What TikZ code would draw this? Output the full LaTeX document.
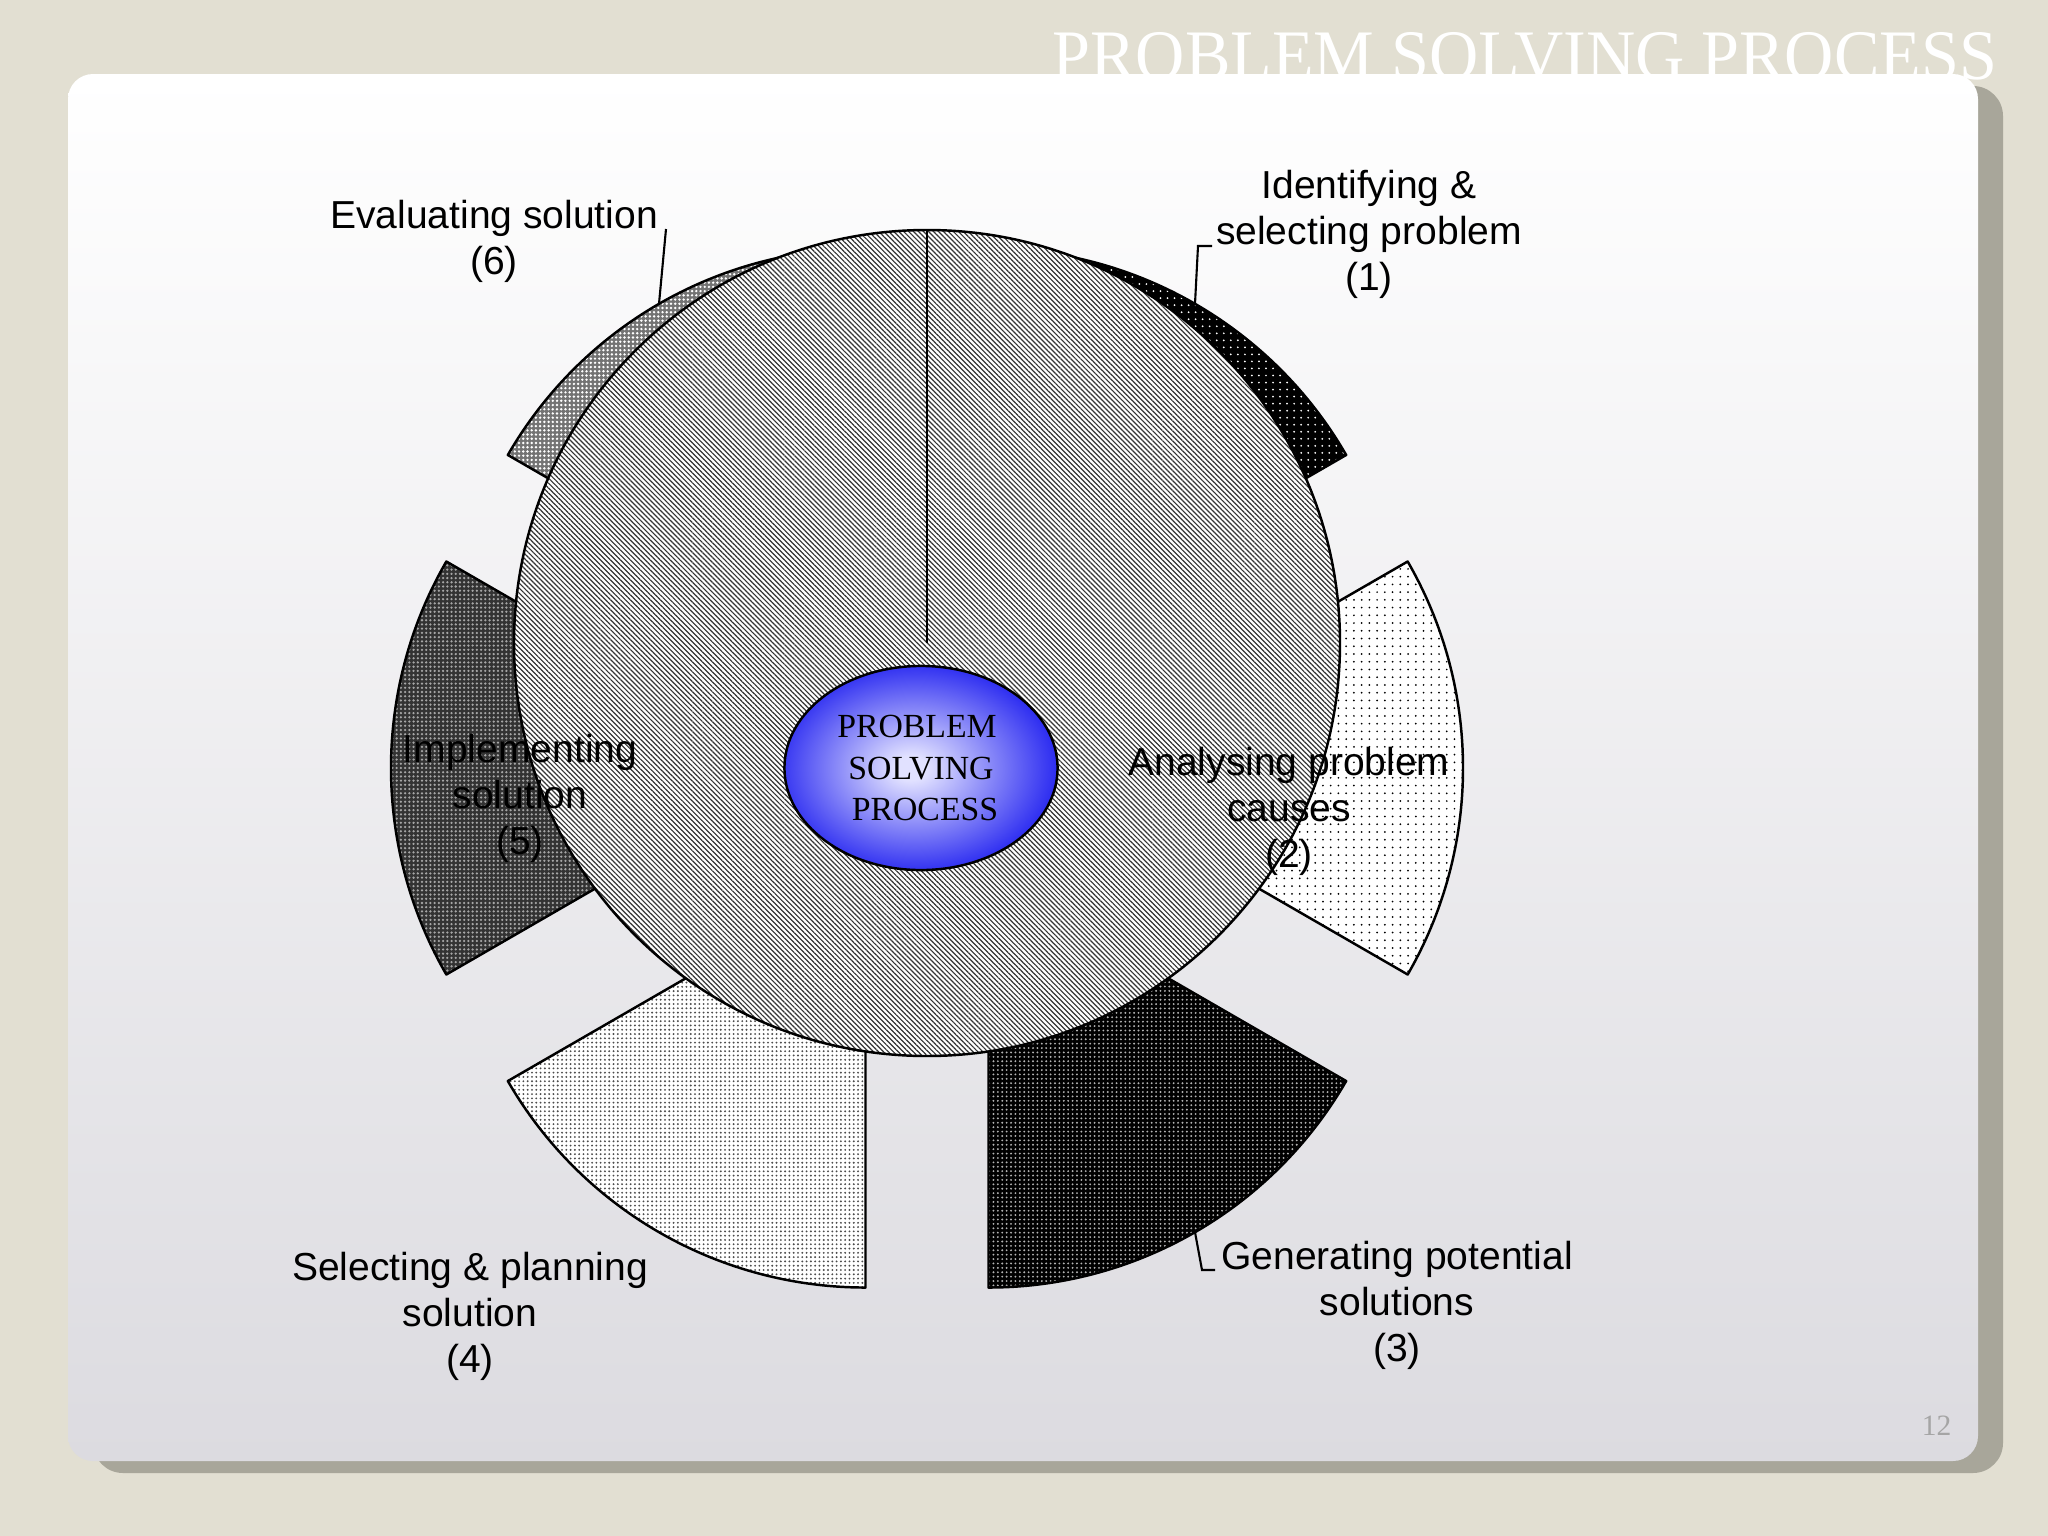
\documentclass[tikz,border=0pt]{standalone}
\usepackage{graphicx}
\usepackage{fontspec}
\setmainfont{Liberation Serif}
\newfontfamily\arialf{Liberation Sans}
\usetikzlibrary{calc,shapes.geometric,patterns.meta}
\definecolor{bgc}{RGB}{226,223,210}
\definecolor{shadowc}{RGB}{168,166,154}
\definecolor{panelbot}{RGB}{220,219,224}
\definecolor{ctrc}{RGB}{225,225,255}
\definecolor{bluc}{RGB}{35,35,240}
\definecolor{pgnum}{RGB}{165,165,165}
\pgfdeclareradialshading{blueglow}{\pgfpoint{-2bp}{0bp}}{color(0bp)=(ctrc); color(3bp)=(ctrc); color(27bp)=(bluc); color(50bp)=(bluc)}
\tikzset{
  lbl/.style={font=\arialf\fontsize{11.1}{13.1}\selectfont, align=center, text=black, inner sep=0pt},
  outl/.style={draw=black, line width=0.7pt, line join=round},
  leader/.style={draw=black, line width=0.6pt},
  s1fill/.style={preaction={fill=black}, pattern={Dots[radius=0.28pt,distance=2pt]}, pattern color=white},
  s2fill/.style={preaction={fill=white}, pattern={Dots[radius=0.28pt,distance=2.2pt]}, pattern color=black},
  s3fill/.style={preaction={fill=black}, pattern={Dots[radius=0.3pt,distance=1.25pt]}, pattern color=white!70!black},
  s4fill/.style={preaction={fill=white}, pattern={Dots[radius=0.3pt,distance=1.22pt]}, pattern color=black!70},
  s5fill/.style={preaction={fill=black!80}, pattern={Dots[radius=0.36pt,distance=1.2pt]}, pattern color=white!65!black},
  s6fill/.style={preaction={fill=black!55}, pattern={Dots[radius=0.38pt,distance=1.2pt]}, pattern color=white},
  circfill/.style={preaction={fill=white}, pattern={Lines[angle=-45,distance=1pt,line width=0.34pt]}, pattern color=black!80},
}
\begin{document}
\begin{tikzpicture}[x=0.01cm, y=-0.01cm]
\useasboundingbox (0,0) rectangle (2048,1536);
\fill[bgc] (0,0) rectangle (2048,1536);
% slide panel
\fill[shadowc, rounded corners=0.3cm] (93,86) rectangle (2003,1473);
\path[rounded corners=0.25cm, top color=white, bottom color=panelbot] (68,74) rectangle (1978,1461);
\node[anchor=base east, text=white, font=\fontsize{20.2}{24}\selectfont, inner sep=0pt] (title) at (1998,79) {\scalebox{0.96}[1]{PROBLEM SOLVING PROCESS}};
% geometry
\coordinate (O) at (927,768);
\coordinate (C) at (927,643);
\foreach \i/\b in {1/-60, 2/0, 3/60, 4/120, 5/180, 6/240}
  \coordinate (A\i) at ($(O)+(\b:123)$);
% outer slices
\path[outl, s1fill] (A1) -- ++(-90:413) arc[start angle=-90, end angle=-30, radius=413] -- cycle;
\path[outl, s2fill] (A2) -- ++(-30:413) arc[start angle=-30, end angle=30, radius=413] -- cycle;
\path[outl, s3fill] (A3) -- ++(30:413) arc[start angle=30, end angle=90, radius=413] -- cycle;
\path[outl, s4fill] (A4) -- ++(90:413) arc[start angle=90, end angle=150, radius=413] -- cycle;
\path[outl, s5fill] (A5) -- ++(150:413) arc[start angle=150, end angle=210, radius=413] -- cycle;
\path[outl, s6fill] (A6) -- ++(210:413) arc[start angle=210, end angle=270, radius=413] -- cycle;
% central disc
\path[outl, circfill] (C) circle[radius=413];
\coordinate (Ctop) at ($(C)+(0,-413)$);
\draw[outl] (C) -- (Ctop);
% core ellipse
\node[ellipse, shade, shading=blueglow, draw=black, line width=0.7pt, minimum width=2.73cm, minimum height=2.04cm, inner sep=0pt, font=\fontsize{9.6}{11.7}\selectfont, align=center] (core) at (921,768) {PROBLEM\rule{0.08cm}{0pt}\\SOLVING\\\rule{0.08cm}{0pt}PROCESS};
% labels
\node[lbl] (l6) at (494,241) {Evaluating solution\\(6)};
\node[lbl] (l1) at (1369,234) {Identifying \&\\selecting problem\\(1)};
\node[lbl] (l5) at (520,798) {Implementing\\solution\\(5)};
\node[lbl] (l2) at (1289,811) {Analysing problem\\causes\\(2)};
\node[lbl] (l4) at (470,1316) {Selecting \& planning\\solution\\(4)};
\node[lbl] (l3) at (1397,1305) {Generating potential\\solutions\\(3)};
% leaders
\coordinate (p1) at ($(A1)+(-60:413)$);
\coordinate (q1) at (1198,246);
\coordinate (r1) at (1212,246);
\draw[leader] (p1) -- (q1) -- (r1);
\coordinate (p6) at ($(A6)+(240:413)$);
\coordinate (q6) at (666,229);
\draw[leader] (p6) -- (q6);
\coordinate (p3) at ($(A3)+(60:413)$);
\coordinate (q3) at (1202,1270);
\coordinate (r3) at (1215,1270);
\draw[leader] (p3) -- (q3) -- (r3);
% page number
\node[anchor=base east, text=pgnum, font=\fontsize{8.4}{10}\selectfont, inner sep=0pt] (pg) at (1952,1435) {12};
\end{tikzpicture}
\end{document}
